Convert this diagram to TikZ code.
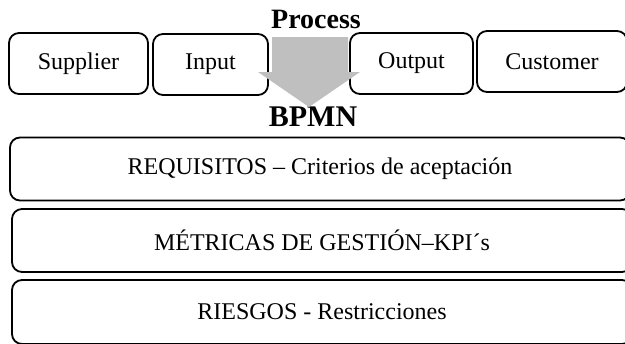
\documentclass[tikz,border=0pt]{standalone}
\usepackage{fontspec}
\setmainfont{Liberation Serif}
\usepackage{tikz}
\usetikzlibrary{positioning}
\definecolor{flowgray}{HTML}{BFBFBF}
\tikzstyle{smallbox} = [rectangle, rounded corners=5pt, minimum height=30.5pt, text centered, draw=black, line width=0.9pt, font=\fontsize{12}{14}\selectfont]
\tikzstyle{layer} = [rectangle, rounded corners=5pt, minimum width=310pt, minimum height=31.5pt, text centered, draw=black, line width=0.9pt, font=\fontsize{12}{14}\selectfont]
\tikzstyle{heading} = [inner sep=0pt, font=\bfseries\fontsize{14}{16}\selectfont]

\begin{document}
\begin{tikzpicture}[x=0.5pt, y=-0.5pt]
\useasboundingbox (0,0) rectangle (625,343);
% top row
\node (supplier) [smallbox, minimum width=69.5pt] at (78.5,63.5) {Supplier};
\node (input) [smallbox, minimum width=57.5pt] at (210.5,64.5) {Input};
\node (output) [smallbox, minimum width=61.5pt] at (411.5,63.5) {Output};
\node (customer) [smallbox, minimum width=75pt] at (552,61.5) {Customer};
% process arrow
\node (process) [heading] at (316,19) {Process};
\node (bpmn) [heading, font=\bfseries\fontsize{15}{17}\selectfont] at (313,117) {BPMN};
\fill [flowgray] (272,37) -- (348,37) -- (348,72) -- (360,72) -- (309,107) -- (258,72) -- (272,72) -- cycle;
% layers
\node (req) [layer] at (320,169) {REQUISITOS -- Criterios de aceptación};
\node (kpi) [layer, minimum height=31.5pt] at (322,240.5) {MÉTRICAS DE GESTIÓN--KPI´s};
\node (risk) [layer, minimum height=32pt] at (322,312) {RIESGOS - Restricciones};
\end{tikzpicture}
\end{document}
